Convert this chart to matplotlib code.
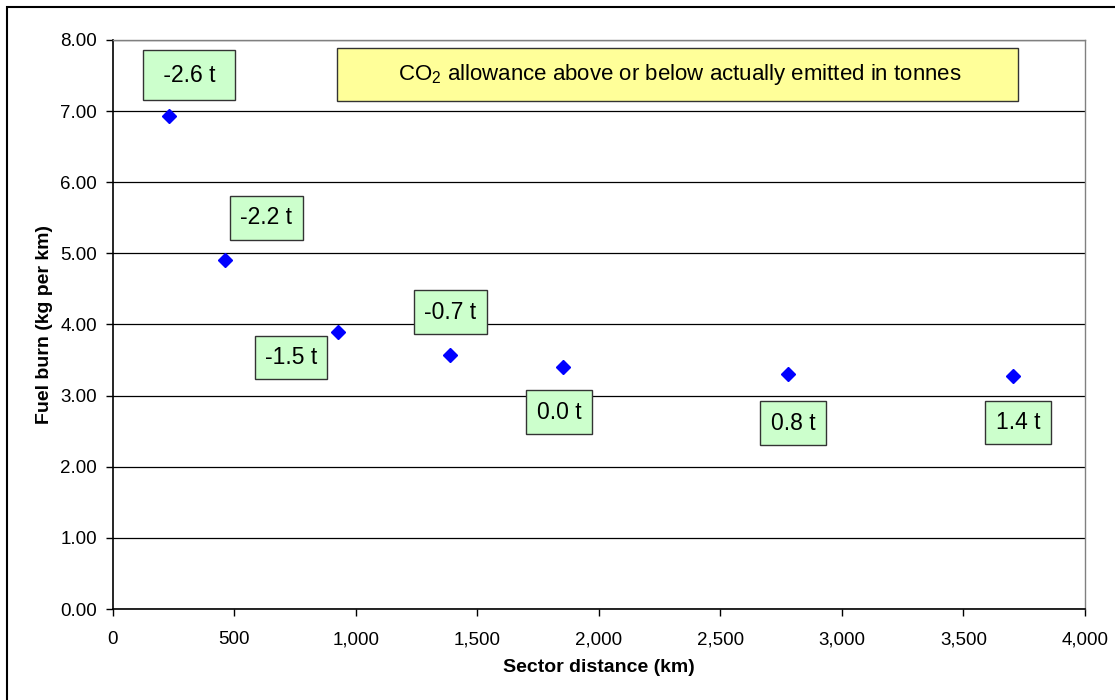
import matplotlib.pyplot as plt
from matplotlib.patches import Rectangle
from matplotlib.ticker import FuncFormatter, MultipleLocator

plt.rcParams['font.family'] = ['Liberation Sans', 'DejaVu Sans']
plt.rcParams['mathtext.fontset'] = 'custom'
plt.rcParams['mathtext.rm'] = 'Liberation Sans'

# sector distance (km) and fuel burn (kg per km)
distance = [231.5, 463, 926, 1389, 1852, 2778, 3704]
fuel_burn = [6.93, 4.91, 3.90, 3.57, 3.40, 3.30, 3.28]
# CO2 allowance above / below actually emitted (tonnes)
allowance = ["-2.6 t", "-2.2 t", "-1.5 t", "-0.7 t", "0.0 t", "0.8 t", "1.4 t"]

# label offsets from the point, in points
label_offsets = [(14.4, 29.5), (29.5, 30.2), (-33.8, -18.7), (0, 31),
                 (-2.9, -32.4), (3.6, -35.3), (3.6, -33.8)]

fig = plt.figure(figsize=(11.15, 7.0), dpi=100)
ax = fig.add_axes([0.1013, 0.13, 0.8717, 0.8129])

ax.set_xlim(0, 4000)
ax.set_ylim(0, 8)
ax.xaxis.set_major_locator(MultipleLocator(500))
ax.yaxis.set_major_locator(MultipleLocator(1))
ax.xaxis.set_major_formatter(FuncFormatter(lambda v, p: f"{v:,.0f}"))
ax.yaxis.set_major_formatter(FuncFormatter(lambda v, p: f"{v:.2f}"))

ax.grid(axis='y', color='black', linewidth=0.9, zorder=1)
ax.set_axisbelow(True)
for s in ['top', 'right']:
    ax.spines[s].set_color('#808080')
    ax.spines[s].set_linewidth(1.0)
for s in ['left', 'bottom']:
    ax.spines[s].set_color('black')
    ax.spines[s].set_linewidth(1.2)
ax.tick_params(axis='both', direction='out', length=5, width=1, labelsize=13.5)
ax.tick_params(axis='x', pad=11)
ax.tick_params(axis='y', pad=6.5)

ax.plot(distance, fuel_burn, linestyle='none', marker='D', markersize=7,
        color='#0000ff', zorder=3, clip_on=False)

for i, (x, y, txt) in enumerate(zip(distance, fuel_burn, allowance)):
    pad = 0.6 if i == 0 else 0.45
    label = f" {txt} " if i == 0 else txt
    ax.annotate(label, (x, y), xytext=label_offsets[i], textcoords='offset points',
                ha='center', va='center', fontsize=16.5, zorder=4,
                bbox=dict(boxstyle=f'square,pad={pad}', facecolor='#ccffcc',
                          edgecolor='#333333', linewidth=1.0))

# explanation box
ax.add_patch(Rectangle((0.2305, 0.893), 0.7005, 0.093, transform=ax.transAxes,
                       facecolor='#ffff99', edgecolor='#333333', linewidth=1.0, zorder=4))
ax.text(0.583, 0.9395, r"CO$_\mathrm{2}$ allowance above or below actually emitted in tonnes",
        transform=ax.transAxes, ha='center', va='center', fontsize=16, zorder=5)

ax.set_xlabel("Sector distance (km)", fontsize=14, fontweight='bold')
ax.set_ylabel("Fuel burn (kg per km)", fontsize=14, fontweight='bold')
ax.xaxis.set_label_coords(0.5, -0.088)
ax.yaxis.set_label_coords(-0.062, 0.5)

# outer chart frame (runs off the right and bottom edges)
fig.patches.append(Rectangle((7 / 1115, -0.1), 1.2, (693 / 700) + 0.1,
                             transform=fig.transFigure, fill=False,
                             edgecolor='black', linewidth=1.5))

fig.savefig("out.png", dpi=100)
